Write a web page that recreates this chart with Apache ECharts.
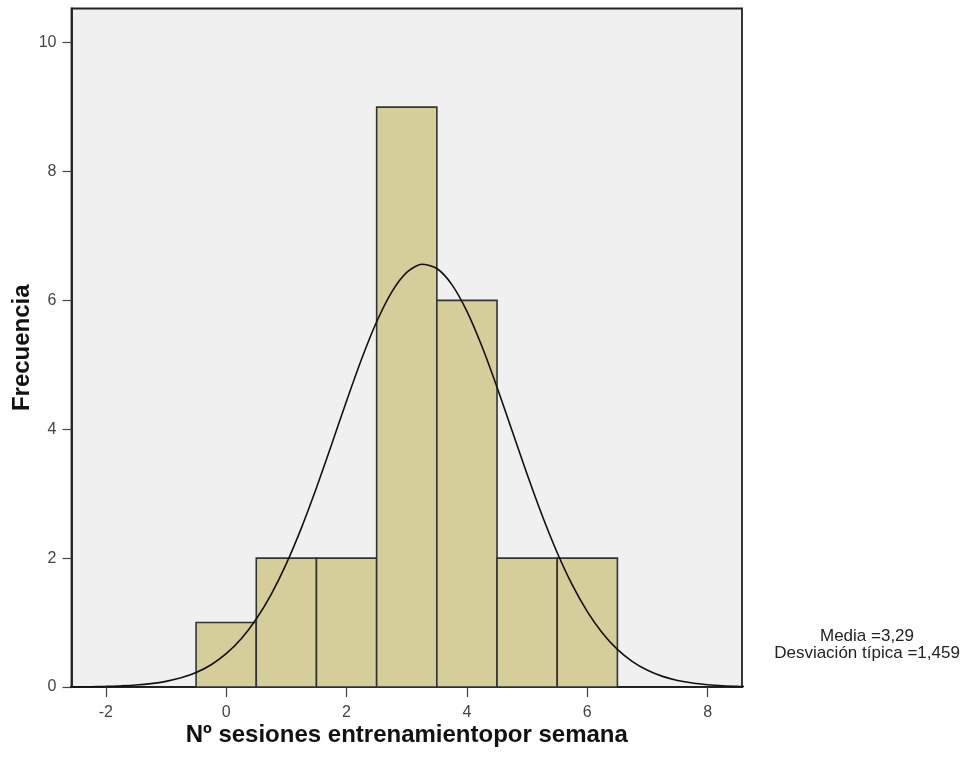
<!DOCTYPE html>
<html>
<head>
<meta charset="utf-8">
<script src="https://cdn.jsdelivr.net/npm/echarts@6/dist/echarts.min.js"></script>
<style>html,body{margin:0;padding:0;background:#fff}#c{width:967px;height:757px}</style>
</head>
<body>
<div id="c"></div>
<script>
// Histogram bins: [start, end, count]
var binStarts = [-0.5, 0.5, 1.5, 2.5, 3.5, 4.5, 5.5];
var binEnds   = [0.5, 1.5, 2.5, 3.5, 4.5, 5.5, 6.5];
var counts    = [1, 2, 2, 9, 6, 2, 2];
// Normal curve values
var curveX = [-2.75, -2.5, -2.25, -2, -1.75, -1.5, -1.25, -1, -0.75, -0.5, -0.25, 0, 0.25, 0.5, 0.75, 1, 1.25, 1.5, 1.75, 2, 2.25, 2.5, 2.75, 3, 3.25, 3.5, 3.75, 4, 4.25, 4.5, 4.75, 5, 5.25, 5.5, 5.75, 6, 6.25, 6.5, 6.75, 7, 7.25, 7.5, 7.75, 8, 8.25, 8.5, 8.75];
var curveY = [0.001, 0.003, 0.005, 0.009, 0.017, 0.030, 0.052, 0.087, 0.142, 0.225, 0.346, 0.517, 0.749, 1.055, 1.442, 1.915, 2.470, 3.092, 3.760, 4.440, 5.091, 5.668, 6.129, 6.434, 6.561, 6.495, 6.245, 5.830, 5.285, 4.653, 3.978, 3.302, 2.662, 2.084, 1.584, 1.170, 0.838, 0.583, 0.394, 0.259, 0.165, 0.102, 0.061, 0.036, 0.020, 0.011, 0.006];
var xTicks = [-2, 0, 2, 4, 6, 8];
var yTicks = [0, 2, 4, 6, 8, 10];
var statsText = ['Media =3,29', 'Desviación típica =1,459'];
var xTitle = 'Nº sesiones entrenamientopor semana';
var yTitle = 'Frecuencia';

var bins = binStarts.map(function (s, i) { return [s, binEnds[i], counts[i]]; });
var curve = curveX.map(function (x, i) { return [x, curveY[i]]; });

var chart = echarts.init(document.getElementById('c'), null, {renderer: 'canvas'});
var font = 'Liberation Sans, Arial, sans-serif';
chart.setOption({
  animation: false,
  backgroundColor: '#ffffff',
  grid: {left: 71.5, right: 225, top: 8.5, bottom: 70, containLabel: false, outerBoundsMode: 'none', show: true, backgroundColor: '#f0f0f0', borderColor: '#222', borderWidth: 1.8},
  xAxis: {
    type: 'value', min: -2.57, max: 8.57,
    name: xTitle, nameLocation: 'middle', nameGap: 36, nameMoveOverlap: false,
    nameTextStyle: {fontFamily: font, fontWeight: 'bold', fontSize: 24, color: '#111'},
    axisLine: {show: true, onZero: false, lineStyle: {color: '#222', width: 1.8}},
    axisTick: {show: true, length: 10, lineStyle: {color: '#444', width: 1.2}, customValues: xTicks},
    axisLabel: {fontFamily: font, fontSize: 16, color: '#444', margin: 18, customValues: xTicks},
    splitLine: {show: false}
  },
  yAxis: {
    type: 'value', min: 0, max: 10.53,
    name: yTitle, nameLocation: 'middle', nameGap: 37, nameMoveOverlap: false,
    nameTextStyle: {fontFamily: font, fontWeight: 'bold', fontSize: 24, color: '#111'},
    axisLine: {show: true, onZero: false, lineStyle: {color: '#222', width: 1.8}},
    axisTick: {show: true, length: 9, lineStyle: {color: '#444', width: 1.2}, customValues: yTicks},
    axisLabel: {fontFamily: font, fontSize: 16, color: '#444', margin: 15, customValues: yTicks},
    splitLine: {show: false}
  },
  graphic: [{
    type: 'text', x: 867, y: 628,
    style: {text: statsText.join('\n'), align: 'center', fontFamily: font, fontSize: 17, lineHeight: 17, fill: '#222'}
  }],
  series: [{
    type: 'custom',
    data: bins,
    renderItem: function (params, api) {
      var p0 = api.coord([api.value(0), api.value(2)]);
      var p1 = api.coord([api.value(1), 0]);
      return {
        type: 'rect',
        shape: {x: p0[0], y: p0[1], width: p1[0] - p0[0], height: p1[1] - p0[1]},
        style: {fill: '#d5cd9a', stroke: '#333', lineWidth: 1.6}
      };
    },
    encode: {x: [0, 1], y: 2},
    z: 2
  }, {
    type: 'line',
    data: curve,
    smooth: 0.25,
    clip: true,
    showSymbol: false,
    lineStyle: {color: '#111', width: 1.6},
    z: 3
  }]
});
</script>
</body>
</html>
